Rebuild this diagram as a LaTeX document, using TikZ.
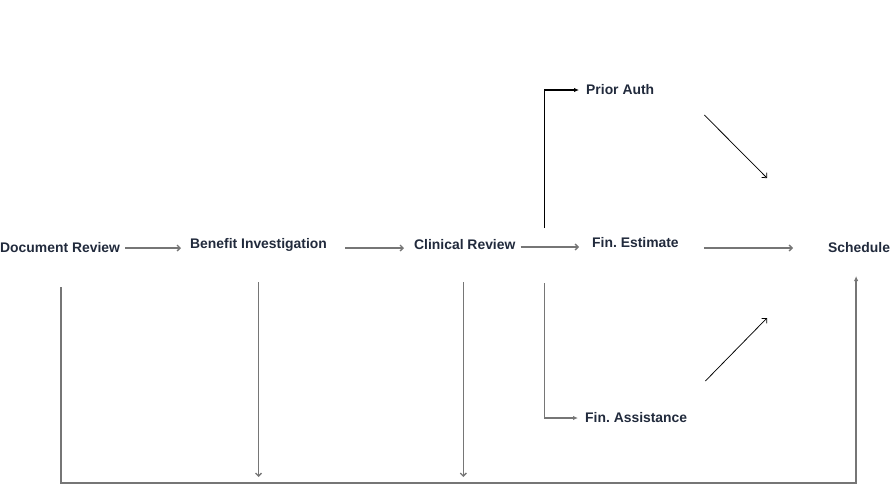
\documentclass[tikz,border=0pt]{standalone}
\usepackage{fontspec}
\setmainfont{Liberation Sans}
\usetikzlibrary{arrows.meta}
\frenchspacing
\definecolor{txt}{RGB}{33,42,60}
\definecolor{ln}{RGB}{118,118,118}
\tikzset{
 lbl/.style={font=\bfseries\fontsize{13.9}{16}\selectfont, text=txt, inner sep=0pt, anchor=west},
 openarr/.style={-{Straight Barb[length=3pt,width=6pt]}, draw=ln, line width=1.35pt},
 fillarr/.style={-{Latex[length=5pt,width=4.5pt]}, draw=ln, line width=1.35pt},
 blkarr/.style={-{Latex[length=5pt,width=4.5pt]}, draw=black, line width=1.1pt},
 thinarr/.style={-{Straight Barb[length=3.5pt,width=7pt]}, draw=black, line width=0.75pt},
}
\begin{document}
\begin{tikzpicture}[x=1pt,y=-1pt]
\useasboundingbox (0,0) rectangle (891,491);
\node[lbl] (doc) at (0,248) {Document Review};
\node[lbl] (ben) at (190,245) {Benefit Investigation};
\node[lbl] (cli) at (414,245) {Clinical Review};
\node[lbl] (est) at (592,243) {Fin. Estimate};
\node[lbl] (sch) at (828,248) {Schedule};
\node[lbl] (pa) at (586,90) {Prior Auth};
\node[lbl] (fa) at (585,418) {Fin. Assistance};

\draw[openarr] ([shift={(5,0)}]doc.east) -- ([shift={(-9,0)}]doc.east -| ben.west);
\draw[openarr] ([shift={(18,3)}]ben.east) -- ([shift={(-10,3)}]ben.east -| cli.west);
\draw[openarr] ([shift={(5,2)}]cli.east) -- ([shift={(-13,2)}]cli.east -| est.west);
\draw[openarr] ([shift={(25,5)}]est.east) -- ([shift={(-35,0)}]sch.west);

\draw[blkarr] ([shift={(29,-17)}]cli.east) |- ([shift={(-7,0)}]pa.west);
\draw[fillarr] ([shift={(29,38)}]cli.east) |- ([shift={(-7,0)}]fa.west);

\draw[thinarr] ([shift={(50,25)}]pa.east) -- ([shift={(-61,-70)}]sch.west);
\draw[thinarr] ([shift={(18,-37)}]fa.east) -- ([shift={(-61,70)}]sch.west);

\draw[fillarr] ([shift={(1,39)}]doc.center) -- ++(0,196) -| ([shift={(-3,28)}]sch.center);
\coordinate (benend) at ([shift={(0,232)}]ben.center);
\coordinate (cliend) at ([shift={(-1.5,232)}]cli.center);
\draw[openarr] ([shift={(0,37)}]ben.center) -- (benend);
\draw[openarr] ([shift={(-1.5,37)}]cli.center) -- (cliend);
\end{tikzpicture}
\end{document}
